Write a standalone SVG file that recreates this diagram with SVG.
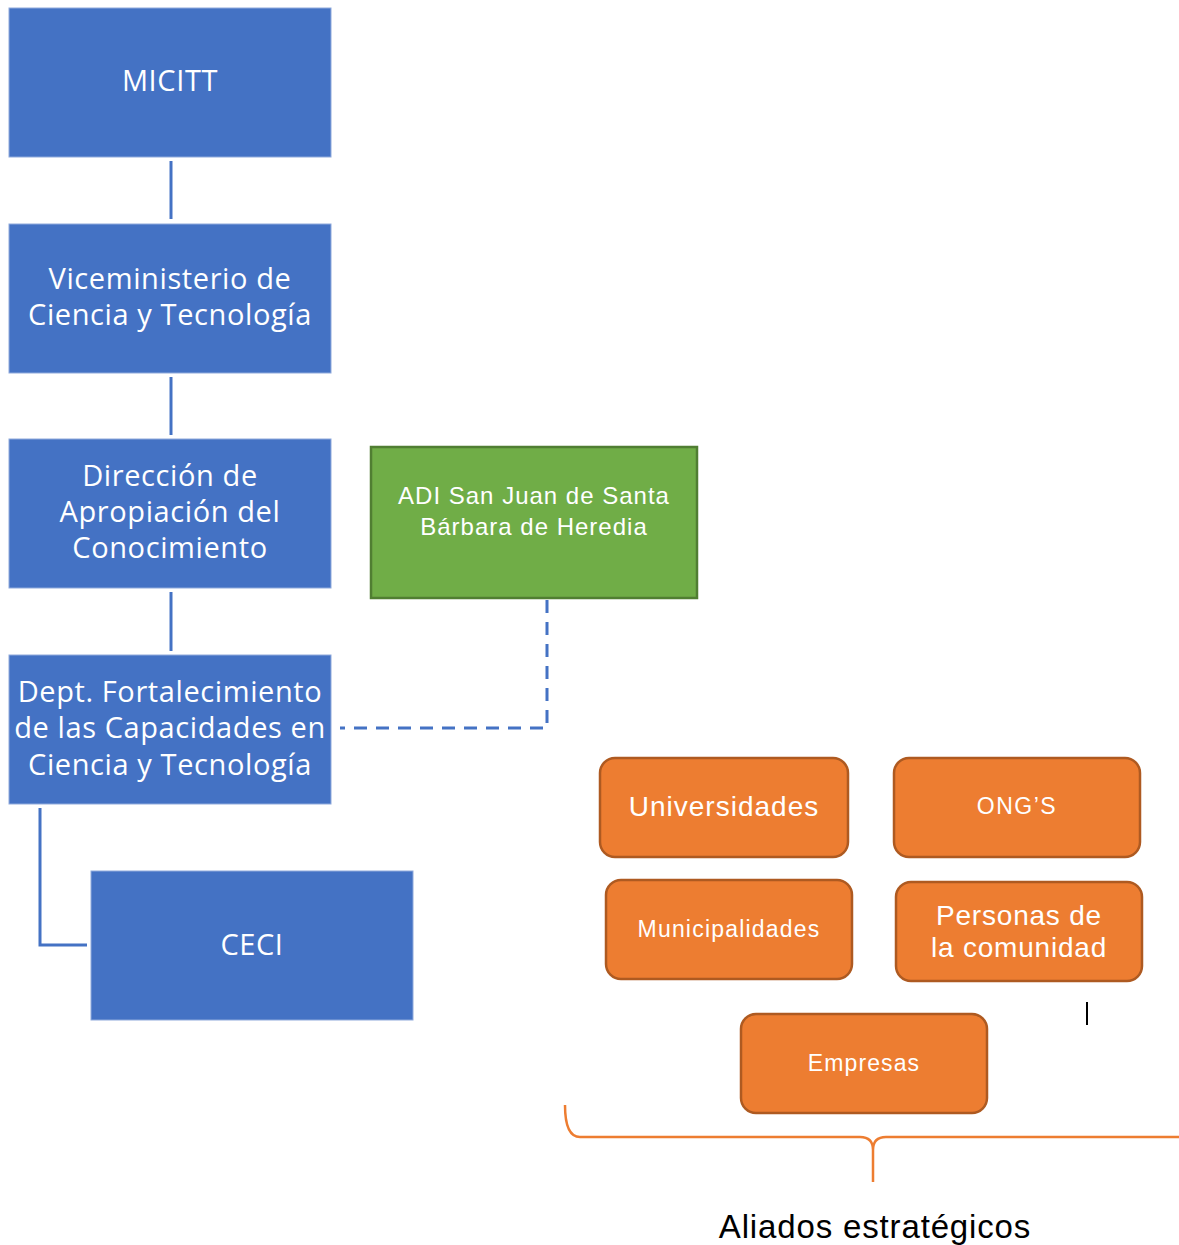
<svg xmlns="http://www.w3.org/2000/svg" width="1179" height="1245" viewBox="0 0 1179 1245">
<style>
.blue{fill:#4472C4;stroke:#8FAADC;stroke-width:1}
.green{fill:#70AD47;stroke:#507E32;stroke-width:2.5}
.orange{fill:#ED7D31;stroke:#AE5A21;stroke-width:2.5}
.tb{font-family:"Open Sans","Noto Sans",sans-serif;font-size:29px;letter-spacing:0.6px;fill:#fff;text-anchor:middle}
.ta{font-family:"Liberation Sans",Arial,sans-serif;fill:#fff;text-anchor:middle}
.line{stroke:#4472C4;stroke-width:3;fill:none}
</style>
<rect width="1179" height="1245" fill="#fff"/>
<g id="connectors">
<line class="line" x1="171" y1="161" x2="171" y2="219"/>
<line class="line" x1="171" y1="377" x2="171" y2="435"/>
<line class="line" x1="171" y1="592" x2="171" y2="651"/>
<polyline class="line" points="40,808 40,945 87,945"/>
<polyline class="line" points="547,600 547,728 340,728" stroke-dasharray="13,9"/>
</g>
<g id="micitt"><rect class="blue" x="9" y="8" width="322" height="149"/><text class="tb" x="170" y="91">MICITT</text></g>
<g id="viceministerio"><rect class="blue" x="9" y="224" width="322" height="149"/><text class="tb" x="170" y="289">Viceministerio de</text><text class="tb" x="170" y="325">Ciencia y Tecnología</text></g>
<g id="direccion"><rect class="blue" x="9" y="439" width="322" height="149"/><text class="tb" x="170" y="486">Dirección de</text><text class="tb" x="170" y="522">Apropiación del</text><text class="tb" x="170" y="558">Conocimiento</text></g>
<g id="dept"><rect class="blue" x="9" y="655" width="322" height="149"/><text class="tb" x="170" y="702">Dept. Fortalecimiento</text><text class="tb" x="170" y="738">de las Capacidades en</text><text class="tb" x="170" y="775">Ciencia y Tecnología</text></g>
<g id="ceci"><rect class="blue" x="91" y="871" width="322" height="149"/><text class="tb" x="252" y="955">CECI</text></g>
<g id="adi"><rect class="green" x="371" y="447" width="326" height="151"/><text class="ta" x="534" y="504" font-size="24" letter-spacing="1">ADI San Juan de Santa</text><text class="ta" x="534" y="535" font-size="24" letter-spacing="1">Bárbara de Heredia</text></g>
<g id="universidades"><rect class="orange" x="600" y="758" width="248" height="99" rx="15"/><text class="ta" x="724" y="816" font-size="28" letter-spacing="1">Universidades</text></g>
<g id="ongs"><rect class="orange" x="894" y="758" width="246" height="99" rx="15"/><text class="ta" x="1017" y="814" font-size="23" letter-spacing="1.5">ONG’S</text></g>
<g id="municipalidades"><rect class="orange" x="606" y="880" width="246" height="99" rx="15"/><text class="ta" x="729" y="937" font-size="23" letter-spacing="1.2">Municipalidades</text></g>
<g id="personas"><rect class="orange" x="896" y="882" width="246" height="99" rx="15"/><text class="ta" x="1019" y="925" font-size="28" letter-spacing="0.8">Personas de</text><text class="ta" x="1019" y="957" font-size="28" letter-spacing="0.8">la comunidad</text></g>
<g id="empresas"><rect class="orange" x="741" y="1014" width="246" height="99" rx="15"/><text class="ta" x="864" y="1071" font-size="23" letter-spacing="1.1">Empresas</text></g>
<line x1="1087" y1="1002" x2="1087" y2="1025" stroke="#000" stroke-width="2"/>
<g id="brace">
<path d="M565,1105 Q565,1137 580,1137 L860,1137 Q873,1137 873,1150 L873,1182 M873,1150 Q873,1137 886,1137 L1179,1137" fill="none" stroke="#ED7D31" stroke-width="2.5"/>
<text x="875" y="1238" font-family="Liberation Sans,Arial,sans-serif" font-size="33" letter-spacing="0.85" fill="#000" text-anchor="middle">Aliados estratégicos</text>
</g>
</svg>
